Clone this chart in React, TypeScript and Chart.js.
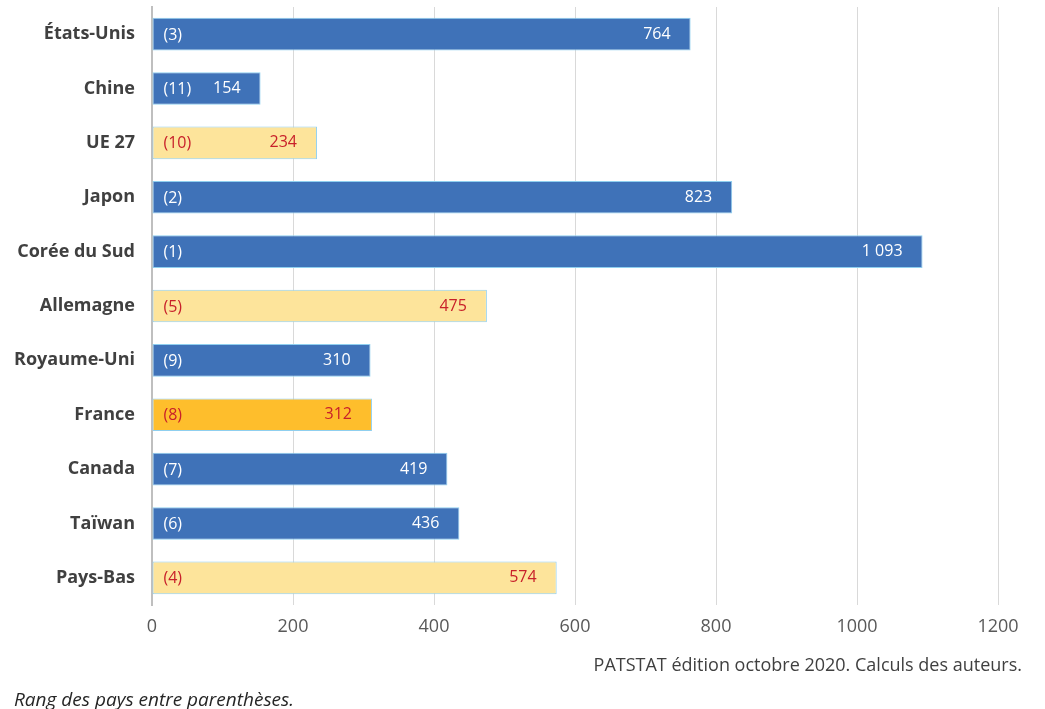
import React, { useEffect, useRef } from "react";
import { Chart, registerables } from "chart.js";

Chart.register(...registerables);

const categories = ["États-Unis", "Chine", "UE 27", "Japon", "Corée du Sud", "Allemagne", "Royaume-Uni", "France", "Canada", "Taïwan", "Pays-Bas"];
const values = [764, 154, 234, 823, 1093, 475, 310, 312, 419, 436, 574];
const ranks = [3, 11, 10, 2, 1, 5, 9, 8, 7, 6, 4];
const groups = ["blue", "blue", "eu", "blue", "blue", "eu", "blue", "fr", "blue", "blue", "eu"];
const xTicks = [0, 200, 400, 600, 800, 1000, 1200];

const FILL: Record<string, string> = { blue: "#3F72B8", eu: "#FDE49B", fr: "#FEBE2C" };
const TEXT: Record<string, string> = { blue: "#FFFFFF", eu: "#C8202A", fr: "#C8202A" };
const FONT = "'Open Sans', 'Noto Sans', sans-serif";

const fmt = (v: number) => String(v).replace(/\B(?=(\d{3})+(?!\d))/g, " ");

const labelPlugin = {
  id: "barLabels",
  afterDatasetsDraw(chart: any) {
    const ctx = chart.ctx;
    const meta = chart.getDatasetMeta(0);
    ctx.save();
    ctx.font = `16px ${FONT}`;
    ctx.textBaseline = "middle";
    meta.data.forEach((bar: any, i: number) => {
      ctx.fillStyle = TEXT[groups[i]];
      ctx.textAlign = "left";
      ctx.fillText(`(${ranks[i]})`, bar.base + 11, bar.y + 1);
      ctx.textAlign = "right";
      ctx.fillText(fmt(values[i]), bar.x - 20, bar.y);
    });
    ctx.restore();
  },
};

export default function App() {
  const ref = useRef<HTMLCanvasElement | null>(null);
  useEffect(() => {
    if (!ref.current) return;
    const chart = new Chart(ref.current, {
      type: "bar",
      data: {
        labels: categories,
        datasets: [
          {
            data: values,
            backgroundColor: groups.map((g) => FILL[g]),
            borderColor: "#8FCFEF",
            borderWidth: 1,
            borderSkipped: false,
            barPercentage: 0.6,
            categoryPercentage: 1,
          },
        ],
      },
      plugins: [labelPlugin],
      options: {
        indexAxis: "y",
        animation: false,
        responsive: false,
        maintainAspectRatio: false,
        layout: { padding: { top: 7, right: 47, bottom: 0, left: 0 } },
        plugins: { legend: { display: false }, tooltip: { enabled: false } },
        scales: {
          x: {
            min: 0,
            max: 1200,
            afterBuildTicks: (axis: any) => {
              axis.ticks = xTicks.map((v) => ({ value: v }));
            },
            afterFit: (axis: any) => {
              axis.height = 104;
              axis.paddingLeft = 0;
              axis.paddingRight = 0;
            },
            grid: { color: "#D9D9D9", lineWidth: 1, drawTicks: false },
            border: { display: false },
            ticks: {
              color: "#595959",
              font: { family: FONT, size: 18 },
              padding: 11,
              callback: (v: any) => String(v),
            },
          },
          y: {
            afterFit: (axis: any) => {
              axis.width = 152;
              axis.paddingTop = 0;
              axis.paddingBottom = 0;
            },
            grid: { display: false },
            border: { display: true, color: "#BFBFBF", width: 2 },
            ticks: { color: "#404040", font: { family: FONT, size: 18, weight: "bold" }, padding: 9 },
          },
        },
      },
    } as any);
    return () => chart.destroy();
  }, []);

  return (
    <div style={{ position: "fixed", left: 0, top: 0, width: 1045, height: 709, background: "#fff" }}>
      <canvas ref={ref} width={1045} height={709} style={{ position: "absolute", left: 0, top: 0 }} />
      <div
        style={{
          position: "absolute",
          right: 23,
          top: 652,
          fontFamily: FONT,
          fontSize: 18,
          color: "#404040",
          whiteSpace: "nowrap",
        }}
      >
        PATSTAT édition octobre 2020. Calculs des auteurs.
      </div>
      <div
        style={{
          position: "absolute",
          left: 14,
          top: 686,
          fontFamily: FONT,
          fontSize: 19,
          fontStyle: "italic",
          color: "#262626",
          whiteSpace: "nowrap",
        }}
      >
        Rang des pays entre parenthèses.
      </div>
    </div>
  );
}
